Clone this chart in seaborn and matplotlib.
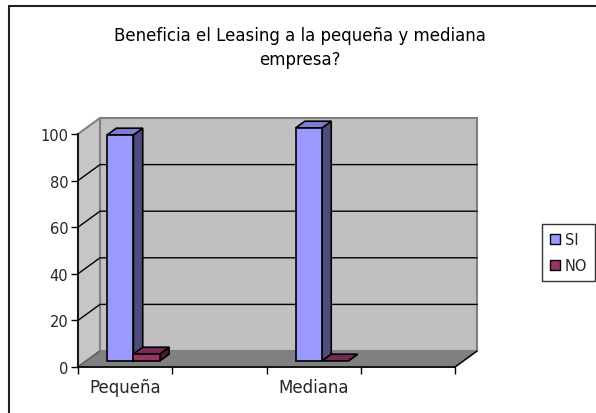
import numpy as np
import pandas as pd
import matplotlib
matplotlib.use("Agg")
import matplotlib.pyplot as plt
from matplotlib.patches import Polygon, Patch
from matplotlib.lines import Line2D
from matplotlib.transforms import ScaledTranslation, IdentityTransform
import seaborn as sns

# ---- data ----
categories = ["Pequeña", "Mediana"]
slots = ["Pequeña", "", "Mediana", " "]          # category slots on the x axis
si_values = [97, 100]
no_values = [3, 0]
series = ["SI", "NO"]
y_ticks = [0, 20, 40, 60, 80, 100]
title = "Beneficia el Leasing a la pequeña y mediana\nempresa?"

front_colors = {"SI": "#9999ff", "NO": "#993366"}
top_colors = {"SI": "#7c7cd0", "NO": "#7a2952"}
side_colors = {"SI": "#4d4d80", "NO": "#4d1a33"}

W, H, DPI = 596, 414, 100
DX, DY = 22, 16            # depth of the 3D box in pixels
D0, D1 = 0.38, 0.80        # depth span of the bars (fraction of box depth)

sns.set_style("white")
plt.rcParams["font.family"] = ["DejaVu Sans"]

fig = plt.figure(figsize=(W / DPI, H / DPI), dpi=DPI)
fig.patch.set_facecolor("white")

def fx(px):
    return px / W

def fy(py):
    return 1 - py / H

ax = fig.add_axes([fx(78), fy(368), fx(455) - fx(78), fy(135) - fy(368)])

df = pd.DataFrame({
    "cat": categories * 2,
    "serie": ["SI"] * len(categories) + ["NO"] * len(categories),
    "val": si_values + no_values,
})

sns.barplot(data=df, x="cat", y="val", hue="serie", order=slots,
            hue_order=series, palette=[front_colors[s] for s in series],
            width=0.56, edgecolor="black", linewidth=1.2, ax=ax,
            saturation=1, zorder=5)
if ax.get_legend() is not None:
    ax.get_legend().remove()

ax.set_xlim(-0.5, len(slots) - 0.5)
ax.set_ylim(0, 100)
ax.set_facecolor("none")
for s in ["top", "right"]:
    ax.spines[s].set_visible(False)
for s in ["left", "bottom"]:
    ax.spines[s].set_color("black")
    ax.spines[s].set_linewidth(1.2)
    ax.spines[s].set_zorder(8)

ax.set_yticks(y_ticks)
ax.set_yticklabels([str(v) for v in y_ticks], fontsize=10.5)
ax.tick_params(axis="y", length=5, width=1, color="black", pad=2, direction="out", left=True)
ax.set_xticks(range(len(slots)))
ax.set_xticklabels(slots, fontsize=12)
ax.set_xticks(np.arange(-0.5, len(slots)), minor=True)
ax.tick_params(axis="x", which="major", length=0, pad=8)
ax.tick_params(axis="x", which="minor", length=5, width=1, color="black", direction="out", bottom=True)
ax.set_xlabel("")
ax.set_ylabel("")

fig.canvas.draw()

def pt(x, y, d):
    """display coordinates of a data point pushed back by depth fraction d"""
    X, Y = ax.transData.transform((x, y))
    return (X + DX * d, Y + DY * d)

def poly(points, fc, ec, lw=1.0, z=1):
    p = Polygon(points, closed=True, facecolor=fc, edgecolor=ec, linewidth=lw,
                transform=IdentityTransform(), zorder=z, clip_on=False)
    fig.add_artist(p)

def line(points, color, lw=1.0, z=2):
    xs, ys = zip(*points)
    fig.add_artist(Line2D(xs, ys, color=color, linewidth=lw,
                          transform=IdentityTransform(), zorder=z))

x0, x1 = -0.5, len(slots) - 0.5
wall_gray = "#c0c0c0"
edge_gray = "#808080"

# back wall, side wall and floor
poly([pt(x0, 0, 1), pt(x1, 0, 1), pt(x1, 100, 1), pt(x0, 100, 1)], wall_gray, edge_gray, 1.5, z=0.5)
poly([pt(x0, 0, 0), pt(x0, 0, 1), pt(x0, 100, 1), pt(x0, 100, 0)], "#c6c6c6", edge_gray, 1.5, z=0.6)
poly([pt(x0, 0, 0), pt(x1, 0, 0), pt(x1, 0, 1), pt(x0, 0, 1)], "#808080", edge_gray, 1.2, z=0.7)

# gridlines on the back and side walls
for v in y_ticks[1:-1]:
    line([pt(x0, v, 0), pt(x0, v, 1), pt(x1, v, 1)], "black", 1.0, z=0.8)
line([pt(x0, 0, 0), pt(x0, 0, 1)], "#606060", 1.0, z=0.8)
line([pt(x1, 0, 0), pt(x1, 0, 1)], "black", 1.0, z=0.8)

# push the bars back and add their top and side faces
off = ScaledTranslation(DX * D0 / DPI, DY * D0 / DPI, fig.dpi_scale_trans)
bars = [p for p in ax.patches if np.isfinite(p.get_height()) and p.get_width() > 0]
for i, bar in enumerate(bars):
    fc = matplotlib.colors.to_hex(bar.get_facecolor())
    key = "SI" if fc == front_colors["SI"] else "NO"
    bx, bw, bh = bar.get_x(), bar.get_width(), bar.get_height()
    bar.set_transform(ax.transData + off)
    bar.set_clip_on(False)
    z = 1.0 + 0.01 * i
    # side face
    poly([pt(bx + bw, 0, D0), pt(bx + bw, 0, D1), pt(bx + bw, bh, D1), pt(bx + bw, bh, D0)],
         side_colors[key], "black", 1.2, z=z)
    # top face
    poly([pt(bx, bh, D0), pt(bx + bw, bh, D0), pt(bx + bw, bh, D1), pt(bx, bh, D1)],
         top_colors[key], "black", 1.2, z=z + 0.005)
    if bh <= 0:
        bar.set_visible(False)

for bar in bars:
    bar.remove()
    bar.set_zorder(1.05)
    fig.add_artist(bar)

ax.set_zorder(1.2)

# title
fig.text(fx(300), fy(48), title, ha="center", va="center", fontsize=12,
         linespacing=1.45, color="black")

# legend
handles = [Patch(facecolor=front_colors[s], edgecolor="black", linewidth=1.0, label=s) for s in series]
leg = fig.legend(handles=handles, loc="upper left", bbox_to_anchor=(fx(542), fy(225)),
                 frameon=True, fancybox=False, fontsize=10.5, handlelength=0.7,
                 handleheight=0.7, handletextpad=0.3, borderpad=0.55, labelspacing=0.75,
                 borderaxespad=0)
leg.get_frame().set_edgecolor("black")
leg.get_frame().set_linewidth(1.0)

# outer chart frame (top and left edges)
fig.add_artist(Line2D([fx(9), fx(9)], [fy(7), 0], color="#222222", lw=1.5))
fig.add_artist(Line2D([fx(9), 1], [fy(7), fy(7)], color="#222222", lw=1.5))

fig.savefig("out.png", dpi=DPI)
